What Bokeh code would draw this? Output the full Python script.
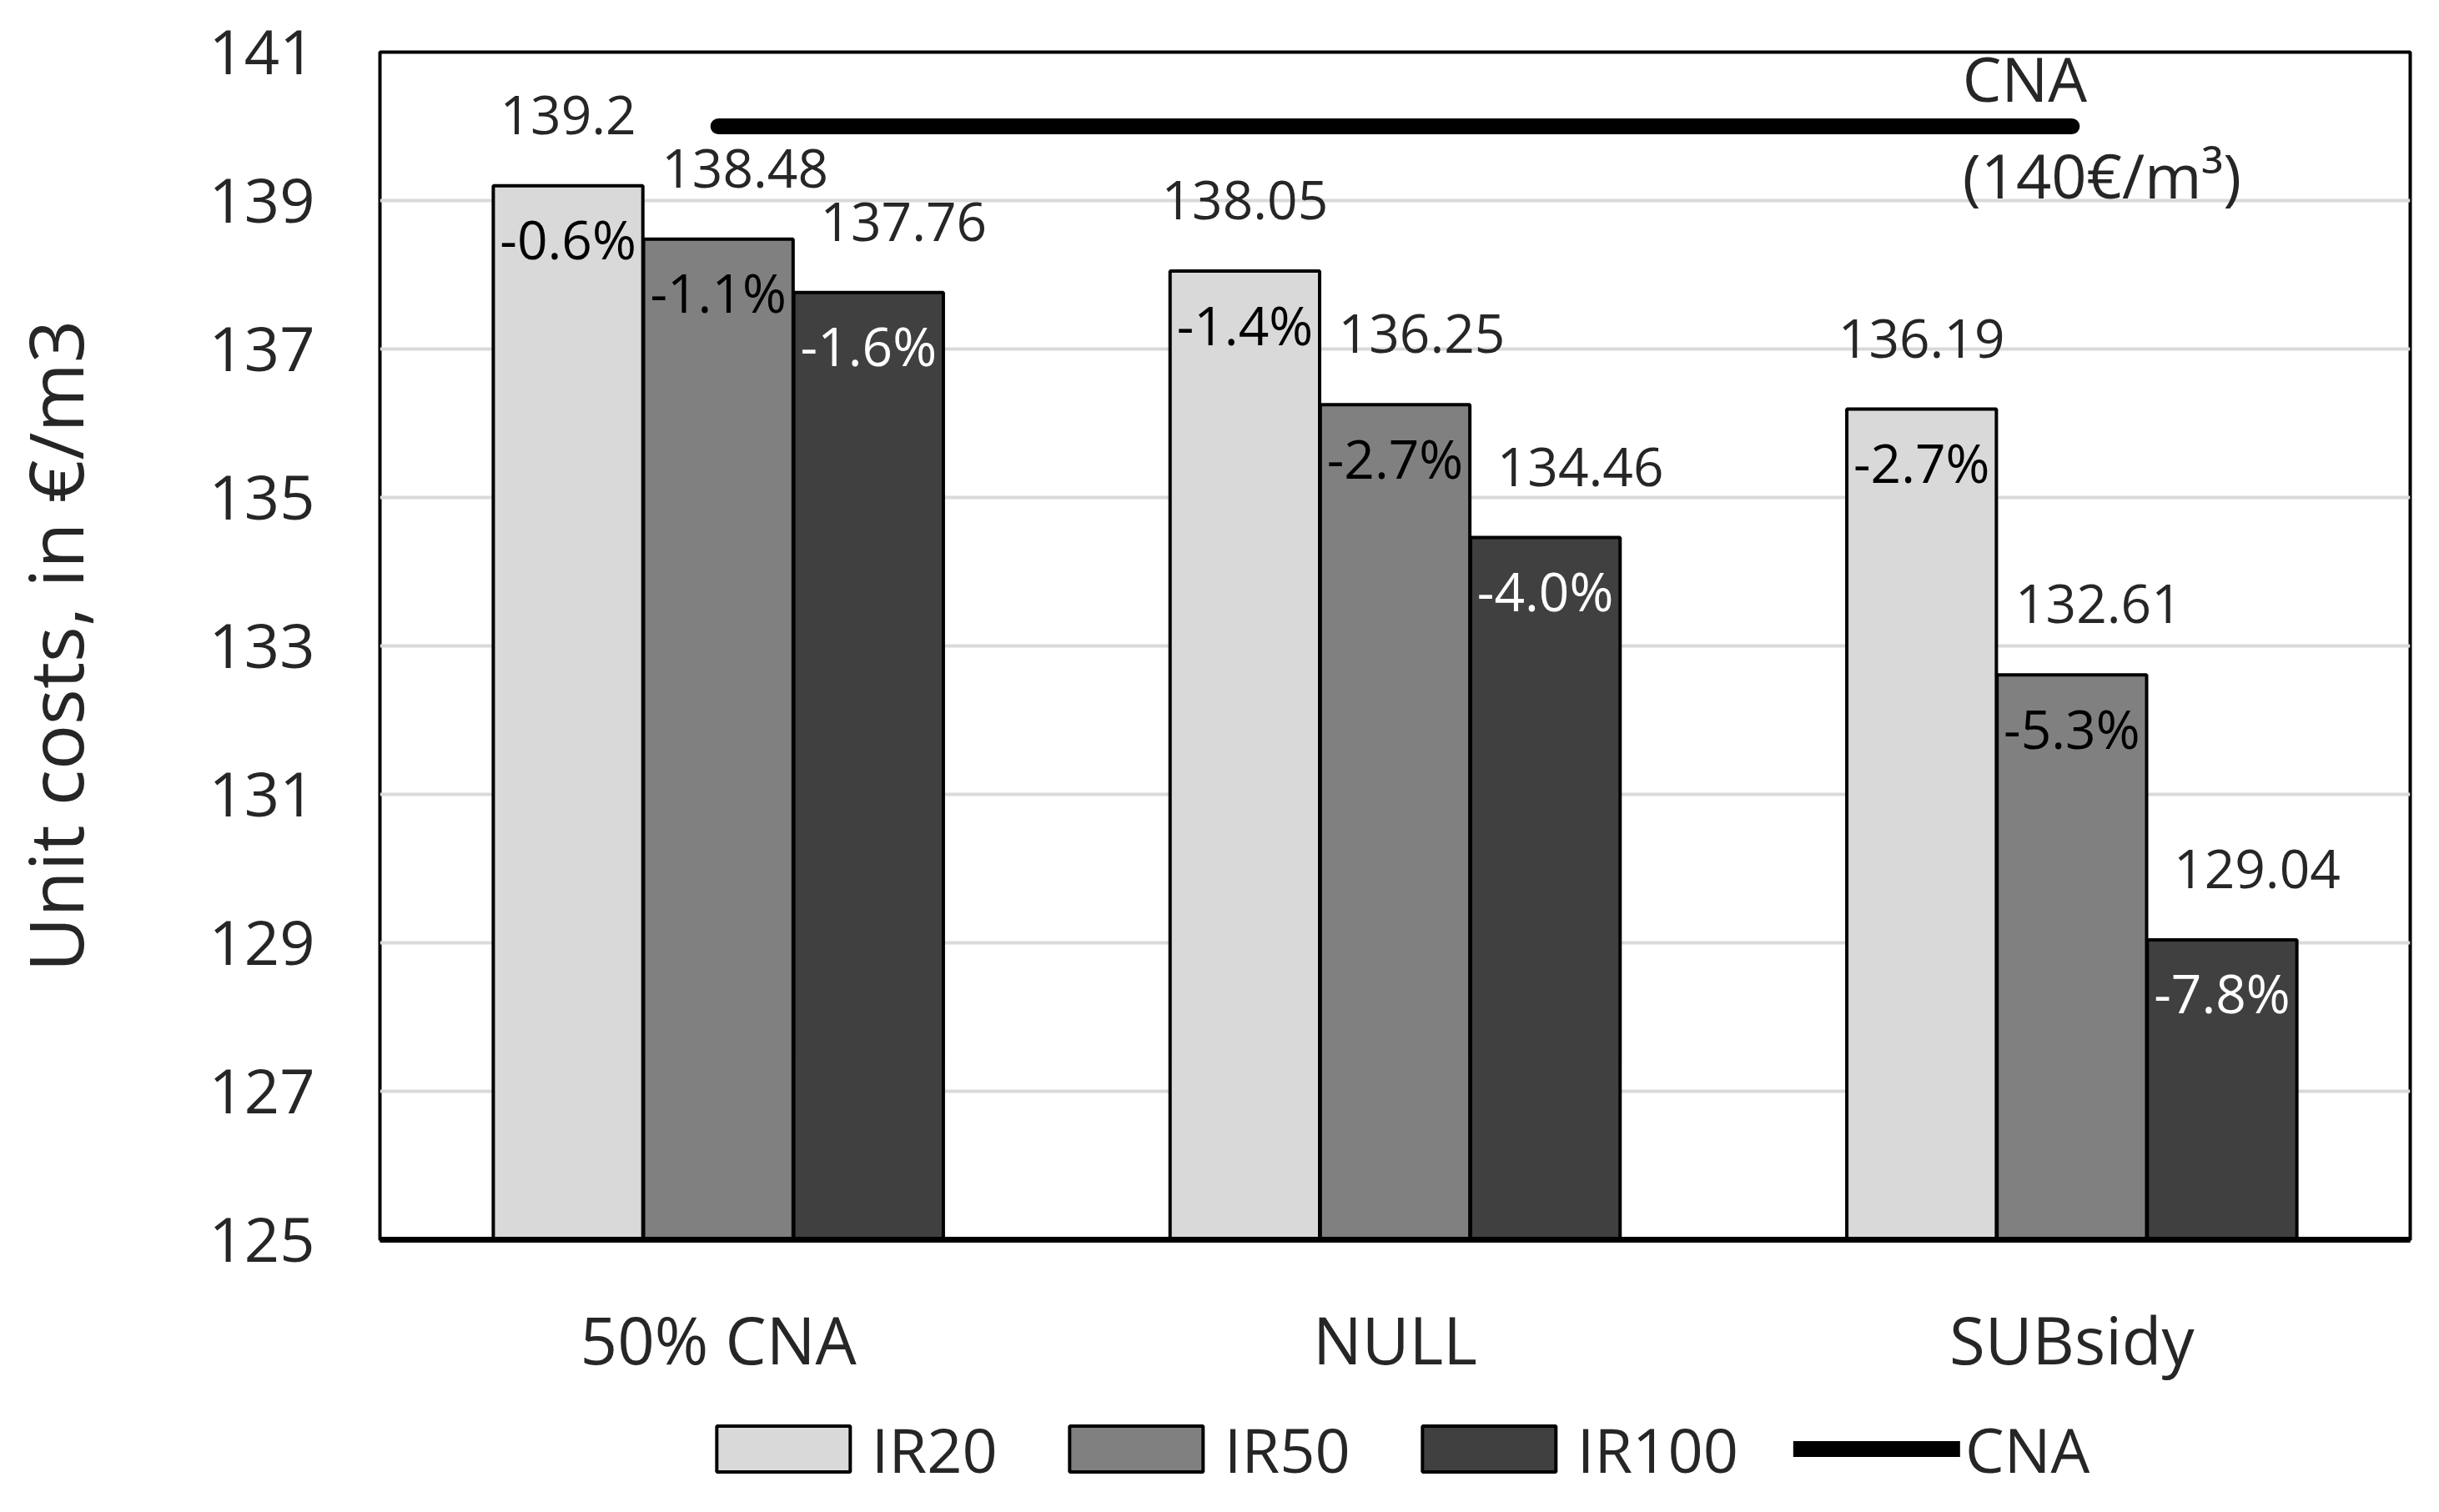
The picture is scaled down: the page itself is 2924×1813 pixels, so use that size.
from bokeh.plotting import figure
from bokeh.layouts import column
from bokeh.models import (ColumnDataSource, FactorRange, Range1d, FixedTicker,
                          Legend, LegendItem)
from bokeh.transform import dodge
from bokeh.core.properties import value
from bokeh.embed import file_html
from bokeh.resources import INLINE

# ---- data ----
categories = ["50% CNA", "NULL", "SUBsidy"]
ir20 = [139.2, 138.05, 136.19]
ir50 = [138.48, 136.25, 132.61]
ir100 = [137.76, 134.46, 129.04]
pct20 = ["-0.6%", "-1.4%", "-2.7%"]
pct50 = ["-1.1%", "-2.7%", "-5.3%"]
pct100 = ["-1.6%", "-4.0%", "-7.8%"]
cna = [140, 140, 140]
series_names = ["IR20", "IR50", "IR100"]
cna_name = "CNA"
cna_note = "(140€/m³)"
y_ticks = [125, 127, 129, 131, 133, 135, 137, 139, 141]
y_label = "Unit costs, in €/m3"

FONT = "Open Sans"
TXT = "#262626"
colors = ["#d9d9d9", "#808080", "#404040"]
pct_colors = ["#000000", "#000000", "#ffffff"]

src = ColumnDataSource(dict(
    cat=categories,
    ir20=ir20, ir50=ir50, ir100=ir100,
    l20=[str(v) for v in ir20], l50=[str(v) for v in ir50], l100=[str(v) for v in ir100],
    p20=pct20, p50=pct50, p100=pct100,
))

W = 2900
BL, BR, BT = 453, 11, 62
FRAME_BOTTOM = 1486
H_MAIN = FRAME_BOTTOM + 192
H_LEG = 118

p = figure(x_range=FactorRange(*categories), y_range=Range1d(125, 141),
           width=W, height=H_MAIN, output_backend="svg", toolbar_location=None,
           min_border_left=BL, min_border_right=BR, min_border_top=BT,
           min_border_bottom=H_MAIN - FRAME_BOTTOM)
p.background_fill_color = "white"
p.border_fill_color = "white"
p.outline_line_color = "black"
p.outline_line_width = 4

# grid
p.xgrid.grid_line_color = None
p.ygrid.grid_line_color = "#d9d9d9"
p.ygrid.grid_line_width = 4
p.yaxis.ticker = FixedTicker(ticks=y_ticks)

# axes
p.yaxis.axis_line_color = None
p.yaxis.major_tick_line_color = None
p.yaxis.minor_tick_line_color = None
p.yaxis.major_label_text_font = FONT
p.yaxis.major_label_text_font_size = "74px"
p.yaxis.major_label_text_color = TXT
p.yaxis.major_label_standoff = 72
p.yaxis.axis_label = y_label
p.yaxis.axis_label_text_font = FONT
p.yaxis.axis_label_text_font_size = "90px"
p.yaxis.axis_label_text_font_style = "normal"
p.yaxis.axis_label_text_color = TXT
p.yaxis.axis_label_standoff = 122

p.xaxis.axis_line_color = "black"
p.xaxis.axis_line_width = 7
p.xaxis.major_tick_line_color = None
p.xaxis.minor_tick_line_color = None
p.xaxis.major_label_text_font = FONT
p.xaxis.major_label_text_font_size = "78px"
p.xaxis.major_label_text_color = TXT
p.xaxis.major_label_standoff = 60

offs = [-0.222, 0.0, 0.222]
cols = ["ir20", "ir50", "ir100"]
lbls = ["l20", "l50", "l100"]
pcts = ["p20", "p50", "p100"]
val_xoff = [0, 32, 42]

for i in range(3):
    p.vbar(x=dodge("cat", offs[i], range=p.x_range), top=cols[i], bottom=125,
           width=0.221, source=src, fill_color=colors[i],
           line_color="black", line_width=4)

# CNA reference line
p.line(x=categories, y=cna, line_color="black", line_width=19, line_cap="round")

for i in range(3):
    p.text(x=dodge("cat", offs[i], range=p.x_range), y=cols[i], text=lbls[i],
           source=src, x_offset=val_xoff[i], y_offset=-85,
           text_align="center", text_baseline="middle",
           text_font=value(FONT), text_font_size="64px", text_color=TXT)
    p.text(x=dodge("cat", offs[i], range=p.x_range), y=cols[i], text=pcts[i],
           source=src, x_offset=0, y_offset=64,
           text_align="center", text_baseline="middle",
           text_font=value(FONT), text_font_size="64px", text_color=pct_colors[i])

# CNA annotation near the line end
p.text(x=[categories[-1]], y=[cna[-1]], text=[cna_name], x_offset=-131, y_offset=-58,
       text_align="left", text_baseline="middle",
       text_font=value(FONT), text_font_size="74px", text_color=TXT)
p.text(x=[categories[-1]], y=[cna[-1]], text=[cna_note], x_offset=-131, y_offset=58,
       text_align="left", text_baseline="middle",
       text_font=value(FONT), text_font_size="74px", text_color=TXT)

# ---- legend strip below the chart (proxy glyphs carry no drawable data) ----
lf = figure(width=W, height=H_LEG, output_backend="svg", toolbar_location=None,
            x_range=Range1d(0, 1), y_range=Range1d(0, 1),
            min_border_left=BL, min_border_right=BR, min_border_top=0,
            min_border_bottom=0)
lf.axis.visible = False
lf.grid.grid_line_color = None
lf.outline_line_color = None
lf.background_fill_color = "white"
lf.border_fill_color = "white"

nan = float("nan")
leg_r = []
for i in range(3):
    leg_r.append(lf.vbar(x=[nan], top=[nan], bottom=[nan], width=0.1,
                         fill_color=colors[i], line_color="black", line_width=4))
leg_line = lf.line(x=[nan, nan], y=[nan, nan], line_color="black", line_width=19,
                   line_cap="round")

legend = Legend(items=[LegendItem(label=series_names[i], renderers=[leg_r[i]]) for i in range(3)]
                + [LegendItem(label=cna_name, renderers=[leg_line])],
                orientation="horizontal", location="center",
                glyph_width=200, glyph_height=69, label_standoff=6, spacing=66,
                label_text_font=FONT, label_text_font_size="74px",
                label_text_color=TXT, border_line_color=None,
                background_fill_alpha=0, padding=4, margin=0)
lf.add_layout(legend, "center")

layout = column(p, lf, spacing=0)
open("out.html", "w").write(file_html(layout, INLINE))
